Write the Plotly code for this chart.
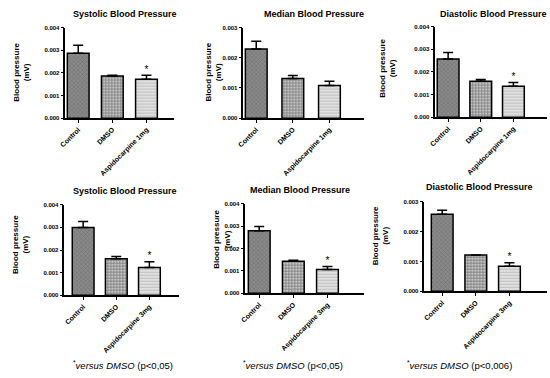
import plotly.graph_objects as go

# ---------------- data ----------------
cats_1mg = ["Control", "DMSO", "Aspidocarpine 1mg"]
cats_3mg = ["Control", "DMSO", "Aspidocarpine 3mg"]

titles = ["Systolic Blood Pressure", "Median Blood Pressure", "Diastolic Blood Pressure",
          "Systolic Blood Pressure", "Median Blood Pressure", "Diastolic Blood Pressure"]

sys_1mg = [0.00287, 0.00186, 0.00172]
sys_1mg_err = [0.00035, 0.00004, 0.00018]
med_1mg = [0.00229, 0.00131, 0.00108]
med_1mg_err = [0.00026, 0.00010, 0.00014]
dia_1mg = [0.00257, 0.00159, 0.00137]
dia_1mg_err = [0.00029, 0.00007, 0.00016]

sys_3mg = [0.00300, 0.00161, 0.00123]
sys_3mg_err = [0.00026, 0.00010, 0.00025]
med_3mg = [0.00279, 0.00143, 0.00106]
med_3mg_err = [0.00019, 0.00005, 0.00014]
dia_3mg = [0.00258, 0.00122, 0.00084]
dia_3mg_err = [0.00014, 0.00000, 0.00012]

y_max = [0.004, 0.003, 0.004, 0.004, 0.004, 0.003]
significant = [True, False, True, True, True, True]

footnotes = ["<sup>*</sup><i>versus DMSO</i> (p&lt;0,05)",
             "<sup>*</sup><i>versus DMSO</i> (p&lt;0,05)",
             "<sup>*</sup><i>versus DMSO</i> (p&lt;0,006)"]

y_title = "Blood pressure<br>(mV)"

panels = [
    (cats_1mg, sys_1mg, sys_1mg_err),
    (cats_1mg, med_1mg, med_1mg_err),
    (cats_1mg, dia_1mg, dia_1mg_err),
    (cats_3mg, sys_3mg, sys_3mg_err),
    (cats_3mg, med_3mg, med_3mg_err),
    (cats_3mg, dia_3mg, dia_3mg_err),
]

# ---------------- layout (pixels) ----------------
W, H = 550, 378
FONT = "Arial, Liberation Sans, sans-serif"
# (axis x0, axis x1, y px of top tick, y px of zero, center px of first bar, center px of third bar)
geom = [
    (60, 170, 25, 117, 73, 142),
    (240, 362, 25, 117, 253, 327),
    (434, 547, 24, 116, 447, 513),
    (59, 175, 205, 297, 78, 145),
    (242, 362, 204, 295, 256, 325),
    (423, 547, 202, 293, 441, 509),
]
title_pos = [(120, 11), (311, 11), (493, 11), (120, 191), (297, 190), (479, 187)]
ytitle_pos = [(16, 70), (210, 70), (386, 66), (14, 245), (218, 240), (378, 236)]
foot_pos = [(118, 368), (290, 368), (459, 368)]
BAR_PX = 22

fills = [
    dict(color="#8a8a8a", pattern=dict(shape="x", fgcolor="#555555", size=3, solidity=0.35)),
    dict(color="white", pattern=dict(shape=".", fgcolor="black", size=3, solidity=0.7)),
    dict(color="#e4e4e4", pattern=dict(shape="-", fgcolor="#9a9a9a", size=3, solidity=0.4)),
]

fig = go.Figure()
annotations = []

for i, ((cats, vals, errs), (ax0, ax1, ytop, y0, c0, c2)) in enumerate(zip(panels, geom)):
    idx = "" if i == 0 else str(i + 1)
    xa, ya = "x" + idx, "y" + idx
    unit = (c2 - c0) / 2.0
    a = -(c0 - ax0) / unit
    b = a + (ax1 - ax0) / unit
    width = BAR_PX / unit
    for j in range(3):
        fig.add_trace(go.Bar(
            x=[cats[j]], y=[vals[j]], xaxis=xa, yaxis=ya, width=width,
            marker=dict(color=fills[j]["color"], pattern=fills[j]["pattern"],
                        line=dict(color="black", width=1.5)),
            error_y=dict(type="data", array=[errs[j]], arrayminus=[0], symmetric=False,
                         color="black", thickness=1.5, width=5),
            showlegend=False, hoverinfo="skip"))
    if significant[i]:
        fig.add_trace(go.Scatter(
            x=[cats[2]], y=[vals[2] + errs[2]], xaxis=xa, yaxis=ya, mode="text",
            text=["*"], textposition="top center",
            textfont=dict(family=FONT, size=10, color="black"),
            showlegend=False, hoverinfo="skip"))
    ymx = y_max[i]
    fig.layout["xaxis" + idx] = dict(
        domain=[ax0 / W, ax1 / W], anchor=ya, type="category", categoryorder="array",
        categoryarray=cats, range=[a, b], showline=True, linecolor="black", linewidth=1.5,
        ticks="outside", ticklen=3, tickwidth=1, tickcolor="black", tickangle=-45,
        tickfont=dict(family=FONT, size=7, color="black", weight="bold"),
        showgrid=False, zeroline=False, fixedrange=True)
    fig.layout["yaxis" + idx] = dict(
        domain=[1 - y0 / H, 1 - ytop / H], anchor=xa, range=[0, ymx],
        tickvals=[k * 0.001 for k in range(int(round(ymx / 0.001)) + 1)],
        tickformat=".3f", showline=True, linecolor="black", linewidth=1.5,
        ticks="outside", ticklen=3, tickwidth=1, tickcolor="black",
        tickfont=dict(family=FONT, size=6, color="black", weight="bold"),
        showgrid=False, zeroline=False, fixedrange=True)
    tx, ty = title_pos[i]
    annotations.append(dict(text="<b>" + titles[i] + "</b>", x=tx / W, y=1 - ty / H,
                            xref="paper", yref="paper", showarrow=False,
                            xanchor="center", yanchor="middle",
                            font=dict(family=FONT, size=9, color="black")))
    yx, yy = ytitle_pos[i]
    annotations.append(dict(text="<b>" + y_title + "</b>", x=yx / W, y=1 - yy / H,
                            xref="paper", yref="paper", showarrow=False, textangle=-90,
                            xanchor="center", yanchor="middle",
                            font=dict(family=FONT, size=8, color="black")))

for k, (fx, fy) in enumerate(foot_pos):
    annotations.append(dict(text=footnotes[k], x=fx / W, y=1 - fy / H,
                            xref="paper", yref="paper", showarrow=False,
                            xanchor="center", yanchor="middle",
                            font=dict(family=FONT, size=9.5, color="black")))

fig.update_layout(width=W, height=H, margin=dict(l=0, r=0, t=0, b=0),
                  paper_bgcolor="white", plot_bgcolor="white", barmode="overlay",
                  annotations=annotations, font=dict(family=FONT))

fig.write_html("out.html", config={"displayModeBar": False},
               post_script="document.body.style.margin='0';document.body.style.overflow='hidden';")
